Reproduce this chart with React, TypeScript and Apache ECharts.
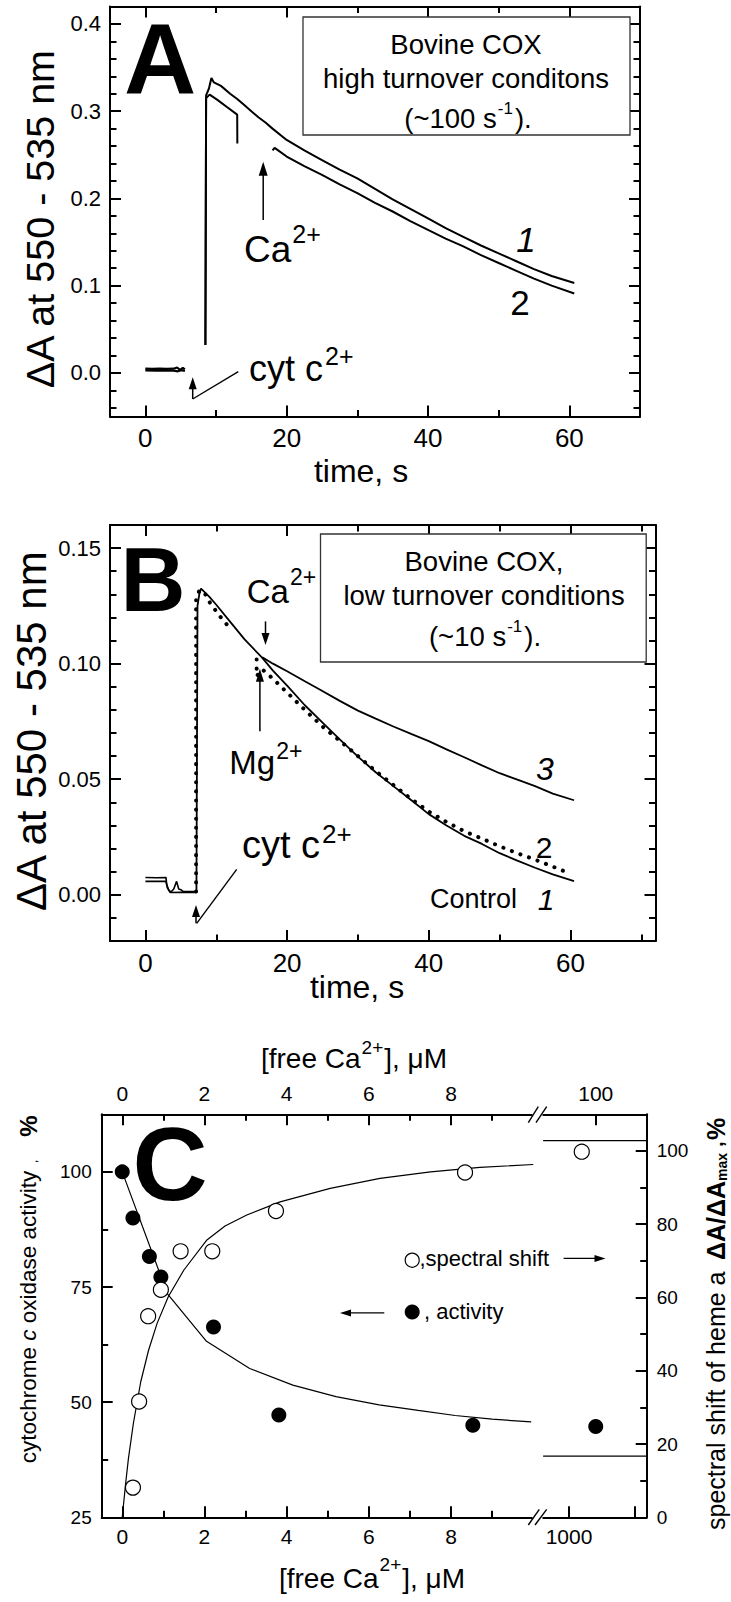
import React, { useEffect, useRef } from 'react';
import * as echarts from 'echarts';

const FF = "'Liberation Sans', Arial, Helvetica, sans-serif";

// ---------- Panel A data (time s, ΔA) ----------
const aBaseUpper = [[0, 0.0048], [1, 0.0047], [2, 0.0049], [3, 0.0046], [4, 0.0048], [4.5, 0.0062], [4.9, 0.0035], [5.3, 0.0058], [5.6, 0.004]];
const aBaseLower = [[0, 0.0028], [1.5, 0.0027], [3, 0.0029], [4, 0.0026], [4.6, 0.0018], [5.1, 0.0031], [5.6, 0.0022]];
const aCurve1 = [[8.5, 0.032], [8.6, 0.318], [9.0, 0.326], [9.35, 0.338], [9.7, 0.333], [10.7, 0.329], [12, 0.32], [13, 0.314], [14, 0.307], [15, 0.3], [16, 0.293], [17, 0.287], [18, 0.28], [20, 0.267], [22.5, 0.255], [25, 0.244], [27.5, 0.233], [30, 0.223], [32.5, 0.211], [35, 0.199], [37.5, 0.188], [40, 0.177], [42.5, 0.166], [45, 0.156], [47.5, 0.146], [50, 0.137], [52.5, 0.128], [55, 0.119], [57.5, 0.111], [60.7, 0.103]];
const aCurve2a = [[8.5, 0.032], [8.6, 0.315], [9.1, 0.319], [10.2, 0.313], [11.5, 0.305], [13, 0.296], [13.02, 0.263]];
const aCurve2b = [[18, 0.255], [18.3, 0.258], [20, 0.248], [22.5, 0.237], [25, 0.227], [27.5, 0.216], [30, 0.206], [32.5, 0.195], [35, 0.185], [37.5, 0.174], [40, 0.164], [42.5, 0.154], [45, 0.145], [47.5, 0.135], [50, 0.126], [52.5, 0.117], [55, 0.108], [57.5, 0.1], [60.7, 0.091]];
const aXMajor = [0, 20, 40, 60];
const aXMinor = [10, 30, 50, 70];
const aYMajor = [0, 0.1, 0.2, 0.3, 0.4];
const aYMinor = [-0.04, -0.02, 0.02, 0.04, 0.06, 0.08, 0.12, 0.14, 0.16, 0.18, 0.22, 0.24, 0.26, 0.28, 0.32, 0.34, 0.36, 0.38];

// ---------- Panel B data ----------
const bBaseUpper = [[0, 0.0075], [1.5, 0.0074], [2.9, 0.0075], [3.0, 0.0045], [3.3, 0.002], [3.6, 0.0012], [4.0, 0.0025], [4.4, 0.0058], [4.7, 0.0025], [5.0, 0.0022], [5.3, 0.0015], [6, 0.0014], [7.2, 0.0014]];
const bBaseLower = [[0, 0.0058], [2.9, 0.0058], [3.1, 0.003], [3.5, 0.001], [5, 0.0011], [7.2, 0.001]];
const bControl = [[7.2, 0.0014], [7.35, 0.125], [7.6, 0.13], [7.85, 0.1325], [9, 0.129], [10, 0.1255], [12, 0.118], [14, 0.1105], [16.5, 0.1025], [18, 0.097], [20, 0.0905], [22.5, 0.082], [25, 0.0745], [27.5, 0.067], [30, 0.0598], [32.5, 0.053], [35, 0.047], [37.5, 0.041], [40, 0.0349], [42.5, 0.03], [45, 0.0255], [47.5, 0.022], [50, 0.018], [52.5, 0.0148], [55, 0.0117], [57.5, 0.0088], [60.5, 0.0059]];
const bMgA = [[7.15, 0.0014], [7.15, 0.128], [7.6, 0.1315], [8.2, 0.1314], [9.1, 0.1264], [10.5, 0.1206], [11.7, 0.1162]];
const bMgB = [[15.7, 0.1018], [15.7, 0.0946], [16.5, 0.0975], [18, 0.0935], [20, 0.0875], [22.5, 0.08], [25, 0.0728], [27.5, 0.0665], [30, 0.06], [32.5, 0.0535], [35, 0.0475], [37.5, 0.0415], [40, 0.036], [42.5, 0.0315], [45, 0.0275], [47.5, 0.0243], [50, 0.021], [52.5, 0.018], [55, 0.0152], [57.5, 0.0122], [59.5, 0.0097]];
const bCa = [[16.5, 0.1028], [18, 0.1], [20, 0.0967], [22.5, 0.0924], [24.6, 0.0888], [27.5, 0.0838], [30, 0.0797], [32.5, 0.0762], [35, 0.0728], [37.5, 0.0696], [40, 0.0665], [42.5, 0.0629], [45, 0.0595], [47.5, 0.056], [50, 0.0526], [52.5, 0.0498], [55, 0.047], [57.5, 0.0438], [60.5, 0.0409]];
const bXMajor = [0, 20, 40, 60];
const bXMinor = [10, 30, 50, 70];
const bYMajor = [0, 0.05, 0.1, 0.15];
const bYMinor = [-0.01, 0.01, 0.02, 0.03, 0.04, 0.06, 0.07, 0.08, 0.09, 0.11, 0.12, 0.13, 0.14];

// ---------- Panel C data (axis-break position scale) ----------
const cActX = [0, 0.26, 0.66, 0.94, 2.22, 3.81, 8.53, 11.52];
const cActY = [100, 90.0, 81.6, 77.2, 66.3, 47.2, 45.0, 44.7];
const cSpecX = [0.26, 0.41, 0.63, 0.94, 1.42, 2.19, 3.74, 8.34, 11.18];
const cSpecY = [8.1, 31.6, 54.9, 62.1, 72.6, 72.6, 83.6, 94.1, 99.8];
const cActFit = [[0, 100], [1.1, 73.5], [2.05, 63.2], [3.1, 57.3], [4.15, 53.7], [5.2, 51.2], [6.25, 49.4], [7.2, 48.2], [8.1, 47.1], [9.0, 46.3], [9.95, 45.7]];
const cSpecFit = [[0, 0], [0.08, 9], [0.15, 16], [0.27, 25.6], [0.45, 37], [0.64, 45.6], [0.85, 53], [1.12, 60.2], [1.5, 67.5], [2.06, 75.7], [2.5, 79.5], [3.03, 82.5], [3.84, 86.1], [5.06, 89.8], [6.27, 92.5], [7.5, 94.3], [8.7, 95.5], [10.0, 96.3]];
const cUpperLevel = [[10.24, 102.8], [12.76, 102.8]];
const cLowerLevel = [[10.24, 16.7], [12.76, 16.7]];
const cBottomMajor = [0, 2, 4, 6, 8, 10.87, 12.48];
const cBottomLabels = [0, 2, 4, 6, 8, 10.87];
const cTopMajor = [0, 2, 4, 6, 8, 11.52];
const cXMinor = [1, 3, 5, 7, 9];
const cLeftMajor = [25, 50, 75, 100];
const cLeftMinor = [37.5, 62.5, 87.5];
const cRightMajor = [0, 20, 40, 60, 80, 100];
const cRightMinor = [10, 30, 50, 70, 90];

type Run = { t: string; size: number; w?: string; it?: boolean; dy?: number; at?: number; gap?: number };

function buildOption() {
  const ctx = document.createElement('canvas').getContext('2d') as CanvasRenderingContext2D;
  const fontOf = (r: Run) => `${r.it ? 'italic ' : ''}${r.w || 'normal'} ${r.size}px ${FF}`;
  const meas = (r: Run) => { ctx.font = fontOf(r); return ctx.measureText(r.t).width; };
  const runs = (x0: number, y: number, list: Run[], align: string = 'left'): any[] => {
    const ws = list.map(meas);
    const pos: number[] = [];
    let cx = 0;
    list.forEach((r, i) => { if (r.at != null) cx = r.at; cx += r.gap || 0; pos.push(cx); cx += ws[i]; });
    const off = align === 'center' ? -cx / 2 : align === 'right' ? -cx : 0;
    return list.map((r, i) => ({
      type: 'text', x: x0 + off + pos[i], y: y + (r.dy || 0), z: 50, silent: true,
      style: { text: r.t, fontSize: r.size, fontFamily: FF, fontWeight: r.w || 'normal', fontStyle: r.it ? 'italic' : 'normal', fill: '#000', align: 'left', verticalAlign: 'middle' },
    }));
  };
  const txt = (x: number, y: number, t: string, size: number, extra: any = {}) => ({
    type: 'text', x, y, z: 50, silent: true,
    style: { text: t, fontSize: size, fontFamily: FF, fill: '#000', align: 'center', verticalAlign: 'middle', ...extra },
  });
  const arrow = (x1: number, y1: number, x2: number, y2: number, hl = 11, hw = 4, lw = 1.5): any[] => {
    const dx = x2 - x1, dy = y2 - y1, L = Math.hypot(dx, dy), ux = dx / L, uy = dy / L;
    const bx = x2 - ux * hl, by = y2 - uy * hl;
    return [
      { type: 'line', z: 50, silent: true, shape: { x1, y1, x2: bx + ux, y2: by + uy }, style: { stroke: '#000', lineWidth: lw } },
      { type: 'polygon', z: 50, silent: true, shape: { points: [[x2, y2], [bx - uy * hw, by + ux * hw], [bx + uy * hw, by - ux * hw]] }, style: { fill: '#000' } },
    ];
  };
  const seg = (x1: number, y1: number, x2: number, y2: number, lw = 1.3) => ({ type: 'line', z: 50, silent: true, shape: { x1, y1, x2, y2 }, style: { stroke: '#000', lineWidth: lw } });
  const box = (x: number, y: number, w: number, h: number) => ({ type: 'rect', z: 40, silent: true, shape: { x, y, width: w, height: h }, style: { fill: '#fff', stroke: '#333', lineWidth: 1.3 } });
  const rot = (x: number, y: number, list: Run[], align = 'left') => ({ type: 'group', x, y, rotation: Math.PI / 2, children: runs(0, 0, list, align) });

  const TK = { color: '#000', width: 2 };
  const mkAxes = (grid: number, min: number, max: number, sides: string[], major: number[][], minor: number[][], labels: any[], majLen = 11, minLen = 6.5) => {
    const out: any[] = [];
    sides.forEach((side, k) => {
      const base = { type: 'value', gridIndex: grid, min, max, position: side, splitLine: { show: false }, axisPointer: { show: false } };
      out.push({ ...base, axisLine: { show: true, onZero: false, lineStyle: { color: '#000', width: 2 } }, axisTick: { show: true, inside: true, length: majLen, customValues: major[k], lineStyle: TK }, axisLabel: labels[k] ? { show: true, color: '#000', fontFamily: FF, ...labels[k] } : { show: false } });
      out.push({ ...base, axisLine: { show: false, onZero: false }, axisTick: { show: true, inside: true, length: minLen, customValues: minor[k], lineStyle: TK }, axisLabel: { show: false } });
    });
    return out;
  };

  const xAxis = [
    ...mkAxes(0, -5, 70, ['bottom', 'top'], [aXMajor, aXMajor], [aXMinor, aXMinor], [{ customValues: aXMajor, fontSize: 26, margin: 8 }, null]),
    ...mkAxes(1, -5, 72, ['bottom', 'top'], [bXMajor, bXMajor], [bXMinor, bXMinor], [{ customValues: bXMajor, fontSize: 26, margin: 9 }, null]),
    ...mkAxes(2, -0.5, 12.76, ['bottom', 'top'], [cBottomMajor, cTopMajor], [cXMinor, cXMinor], [
      { customValues: cBottomLabels, fontSize: 21, margin: 9, formatter: (v: number) => (v > 10 ? '1000' : String(v)) },
      { customValues: cTopMajor, fontSize: 21, margin: 10, formatter: (v: number) => (v > 10 ? '100' : String(v)) },
    ]),
  ];
  const yAxis = [
    ...mkAxes(0, -0.05, 0.42, ['left', 'right'], [aYMajor, aYMajor], [aYMinor, aYMinor], [{ customValues: aYMajor, fontSize: 22, margin: 9, formatter: (v: number) => v.toFixed(1) }, null]),
    ...mkAxes(1, -0.02, 0.16, ['left', 'right'], [bYMajor, bYMajor], [bYMinor, bYMinor], [{ customValues: bYMajor, fontSize: 22, margin: 9, formatter: (v: number) => v.toFixed(2) }, null]),
    ...mkAxes(2, 25, 112.5, ['left'], [cLeftMajor], [cLeftMinor], [{ customValues: cLeftMajor, fontSize: 19, margin: 10 }]),
    ...mkAxes(2, 0, 110, ['right'], [cRightMajor], [cRightMinor], [{ customValues: cRightMajor, fontSize: 19, margin: 10 }]),
  ];

  const line = (data: number[][], xi: number, yi: number, ls: any = {}) => ({
    type: 'line', xAxisIndex: xi, yAxisIndex: yi, data, symbol: 'none', showSymbol: false, silent: true, z: 3,
    lineStyle: { color: '#000', width: 2, ...ls },
  });
  const dotted = { type: [0.1, 9], cap: 'round', width: 4 };
  const series: any[] = [
    line(aBaseUpper, 0, 0, { width: 2.2 }),
    line(aBaseLower, 0, 0, { width: 2.2 }),
    line(aCurve1, 0, 0),
    line(aCurve2a, 0, 0),
    line(aCurve2b, 0, 0),
    line(bBaseUpper, 4, 4, { width: 1.6 }),
    line(bBaseLower, 4, 4, { width: 1.6 }),
    line(bControl, 4, 4, { width: 1.8 }),
    line(bCa, 4, 4, { width: 1.8 }),
    line(bMgA, 4, 4, dotted),
    line(bMgB, 4, 4, dotted),
    line(cActFit, 8, 8, { width: 1.2 }),
    line(cSpecFit, 8, 10, { width: 1.2 }),
    line(cUpperLevel, 8, 10, { width: 1.3 }),
    line(cLowerLevel, 8, 10, { width: 1.3 }),
    {
      type: 'scatter', xAxisIndex: 8, yAxisIndex: 8, silent: true, z: 5, symbol: 'circle', symbolSize: 15,
      data: cActX.map((x, i) => [x, cActY[i]]), itemStyle: { color: '#000', opacity: 1 },
    },
    {
      type: 'scatter', xAxisIndex: 8, yAxisIndex: 10, silent: true, z: 5, symbol: 'circle', symbolSize: 15,
      data: cSpecX.map((x, i) => [x, cSpecY[i]]), itemStyle: { color: '#fff', borderColor: '#000', borderWidth: 1.2, opacity: 1 },
    },
  ];

  const graphic: any[] = [
    // ---- Panel A ----
    txt(160, 59, 'A', 100, { fontWeight: 'bold' }),
    box(303, 17, 327, 118),
    txt(466, 44, 'Bovine COX', 27.5),
    txt(466, 78, 'high turnover conditons', 27.5),
    ...runs(468, 118.5, [{ t: '(~100 s', size: 27.5 }, { t: '-1', size: 17, dy: -10, gap: 1 }, { t: ').', size: 27.5, gap: 2 }], 'center'),
    rot(40, 218, [{ t: 'ΔA at 550 - 535 nm', size: 39.5 }], 'center'),
    txt(361, 471, 'time, s', 32),
    ...arrow(192.7, 399, 192.7, 377.3, 12, 4),
    seg(192.7, 399, 238.3, 371.7, 1.4),
    ...runs(249, 368, [{ t: 'cyt c', size: 36 }, { t: '2+', size: 25, dy: -12, gap: 2 }]),
    ...arrow(263.2, 220, 263.2, 161.7, 14, 4.5),
    ...runs(244, 249, [{ t: 'Ca', size: 37 }, { t: '2+', size: 25, dy: -15, gap: 1 }]),
    txt(526, 239, '1', 35, { fontStyle: 'italic' }),
    txt(520, 302, '2', 35),

    // ---- Panel B ----
    txt(153, 580, 'B', 90, { fontWeight: 'bold' }),
    box(320.5, 534, 325.7, 128),
    txt(484, 561, 'Bovine COX,', 27.5),
    txt(484, 595, 'low turnover conditions', 27.5),
    ...runs(485, 636, [{ t: '(~10 s', size: 27.5 }, { t: '-1', size: 17, dy: -10, gap: 1 }, { t: ').', size: 27.5, gap: 2 }], 'center'),
    rot(31, 730, [{ t: 'ΔA at 550 - 535 nm', size: 42 }], 'center'),
    txt(357, 987, 'time, s', 32),
    ...runs(246.7, 591.5, [{ t: 'Ca', size: 33 }, { t: '2+', size: 23, dy: -15, gap: 1 }]),
    ...arrow(265.5, 621.4, 265.5, 645.1, 12, 4),
    ...runs(229.3, 762, [{ t: 'Mg', size: 33 }, { t: '2+', size: 23, dy: -11, gap: 1 }]),
    ...arrow(259.9, 731.3, 259.9, 668.7, 13, 4),
    ...runs(242, 845, [{ t: 'cyt c', size: 38 }, { t: '2+', size: 26, dy: -11, gap: 2 }]),
    ...arrow(196, 923.3, 196, 905, 12, 4),
    seg(196.7, 923.3, 236.7, 869.3, 1.4),
    txt(545, 769, '3', 32, { fontStyle: 'italic' }),
    txt(544, 847, '2', 30),
    ...runs(430, 899.4, [{ t: 'Control', size: 27 }]),
    txt(546, 899, '1', 30, { fontStyle: 'italic' }),

    // ---- Panel C ----
    txt(170, 1164, 'C', 104, { fontWeight: 'bold' }),
    ...runs(354, 1058, [{ t: '[free Ca', size: 28 }, { t: '2+', size: 19, dy: -11, gap: 1 }, { t: '], μM', size: 28, gap: 1 }], 'center'),
    ...runs(372, 1578, [{ t: '[free Ca', size: 28 }, { t: '2+', size: 19, dy: -14, gap: 1 }, { t: '], μM', size: 28, gap: 1 }], 'center'),
    rot(28.6, 1463.3, [
      { t: 'cytochrome ', size: 22.5 }, { t: 'c', size: 22.5, it: true }, { t: ' oxidase activity', size: 22.5 },
      { t: ',', size: 13, at: 300, dy: 4 }, { t: '%', size: 24, w: 'bold', at: 326.6 },
    ]),
    rot(716.3, 1530, [
      { t: 'spectral shift of heme a', size: 25 },
      { t: 'ΔA/ΔA', size: 25, w: 'bold', at: 270 },
      { t: 'max', size: 14, w: 'bold', dy: 6 },
      { t: ',', size: 20, w: 'bold', gap: 6 },
      { t: '%', size: 25, w: 'bold', at: 390 },
    ]),
    { type: 'circle', z: 50, silent: true, shape: { cx: 412.2, cy: 1260.2, r: 7 }, style: { fill: '#fff', stroke: '#000', lineWidth: 1.2 } },
    ...runs(419.5, 1258.7, [{ t: ',spectral shift', size: 22 }]),
    ...arrow(563.6, 1258.4, 605.5, 1258.4, 11, 3.5, 1.4),
    { type: 'circle', z: 50, silent: true, shape: { cx: 412.2, cy: 1311.9, r: 7.5 }, style: { fill: '#000' } },
    ...runs(424, 1311.3, [{ t: ', activity', size: 22 }]),
    ...arrow(384.3, 1312.9, 340, 1312.9, 11, 3.5, 1.4),
    // axis breaks
    { type: 'rect', z: 45, silent: true, shape: { x: 532.5, y: 1110, width: 10, height: 9 }, style: { fill: '#fff' } },
    { type: 'rect', z: 45, silent: true, shape: { x: 532.5, y: 1513, width: 10, height: 9 }, style: { fill: '#fff' } },
    seg(528.3, 1122.7, 538.3, 1106.7, 1.4),
    seg(536, 1122.7, 546.7, 1106.7, 1.4),
    seg(528.3, 1525, 539.3, 1509.3, 1.4),
    seg(535, 1525, 546.7, 1509.3, 1.4),
  ];

  return {
    animation: false,
    backgroundColor: '#fff',
    textStyle: { fontFamily: FF },
    grid: [
      { left: 110, top: 6.5, width: 530, height: 410 },
      { left: 110, top: 525, width: 545.5, height: 416 },
      { left: 101.7, top: 1114.3, width: 545, height: 403 },
    ],
    xAxis,
    yAxis,
    series,
    graphic,
  };
}

export default function App() {
  const ref = useRef<HTMLDivElement>(null);
  useEffect(() => {
    if (!ref.current) return;
    const chart = echarts.init(ref.current, undefined, { renderer: 'svg' });
    chart.setOption(buildOption() as any);
    return () => chart.dispose();
  }, []);
  return <div ref={ref} style={{ position: 'absolute', left: 0, top: 0, width: 731, height: 1602, background: '#fff' }} />;
}
